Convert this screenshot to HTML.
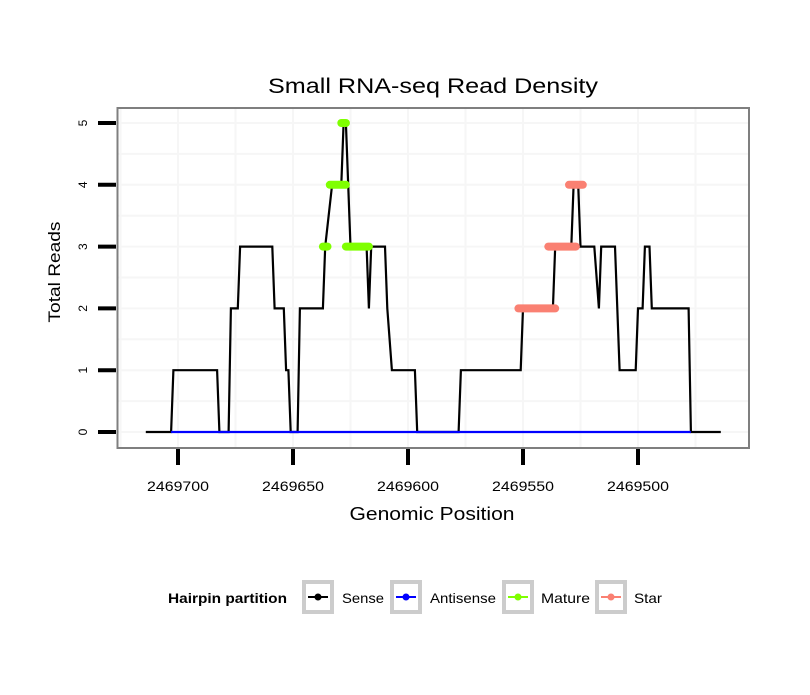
<!DOCTYPE html>
<html><head><meta charset="utf-8"><style>
body{margin:0;background:#fff;}
svg text{font-family:"Liberation Sans",Arial,sans-serif;}
</style></head><body>
<svg id="chart" width="810" height="690" viewBox="0 0 810 690" xmlns="http://www.w3.org/2000/svg">
<rect x="0" y="0" width="810" height="690" fill="#fff"/>
<text x="433" y="93" font-size="21" text-anchor="middle" textLength="330" lengthAdjust="spacingAndGlyphs" fill="#000">Small RNA-seq Read Density</text>
<g id="grid"></g>
<g id="series"></g>
<rect x="117.5" y="108" width="631.5" height="340" fill="none" stroke="#7f7f7f" stroke-width="2"/>
<g id="yaxis"></g>
<g id="xaxis"></g>
<text x="60" y="272" font-size="17" text-anchor="middle" textLength="101" lengthAdjust="spacingAndGlyphs" transform="rotate(-90 60 272)">Total Reads</text>
<text x="432" y="520" font-size="18" text-anchor="middle" textLength="165" lengthAdjust="spacingAndGlyphs">Genomic Position</text>
<g>
<text x="168" y="603" font-size="14" font-weight="bold" textLength="119" lengthAdjust="spacingAndGlyphs">Hairpin partition</text>
<g>
<rect x="304" y="582" width="28" height="30" fill="#fff" stroke="#cccccc" stroke-width="4"/>
<line x1="308" y1="597" x2="328" y2="597" stroke="#000" stroke-width="2"/><circle cx="318" cy="597" r="3.5" fill="#000"/>
<text x="342" y="603" font-size="14" textLength="42" lengthAdjust="spacingAndGlyphs">Sense</text></g>
<g>
<rect x="392" y="582" width="28" height="30" fill="#fff" stroke="#cccccc" stroke-width="4"/>
<line x1="396" y1="597" x2="416" y2="597" stroke="#0000ff" stroke-width="2"/><circle cx="406" cy="597" r="3.5" fill="#0000ff"/>
<text x="430" y="603" font-size="14" textLength="66" lengthAdjust="spacingAndGlyphs">Antisense</text></g>
<g>
<rect x="504" y="582" width="28" height="30" fill="#fff" stroke="#cccccc" stroke-width="4"/>
<line x1="508" y1="597" x2="528" y2="597" stroke="#7fff00" stroke-width="2"/><circle cx="518" cy="597" r="3.5" fill="#7fff00"/>
<text x="541" y="603" font-size="14" textLength="49" lengthAdjust="spacingAndGlyphs">Mature</text></g>
<g>
<rect x="597" y="582" width="28" height="30" fill="#fff" stroke="#cccccc" stroke-width="4"/>
<line x1="601" y1="597" x2="621" y2="597" stroke="#fa8072" stroke-width="2"/><circle cx="611" cy="597" r="3.5" fill="#fa8072"/>
<text x="634" y="603" font-size="14" textLength="28" lengthAdjust="spacingAndGlyphs">Star</text></g>
</g>
</svg>
<script>
const senseX=[2469714,2469703,2469702,2469683,2469682,2469678,2469677,2469674,2469673,2469659,2469658,2469654,2469653,2469652,2469651,2469648,2469647,2469637,2469636,2469633,2469629,2469628,2469627,2469626,2469625,2469618,2469617,2469616,2469610,2469609,2469607,2469597,2469596,2469578,2469577,2469551,2469550,2469537,2469536,2469529,2469528,2469526,2469525,2469519,2469517,2469516,2469510,2469508,2469501,2469500,2469498,2469497,2469495,2469494,2469478,2469477,2469464];
const senseY=[0,0,1,1,0,0,2,2,3,3,2,2,1,1,0,0,2,2,3,4,4,5,5,4,3,3,2,3,3,2,1,1,0,0,1,1,2,2,3,3,4,4,3,3,2,3,3,1,1,2,2,3,3,2,2,0,0];
const antiX=[2469703,2469477];
const antiY=[0,0];
const matureStart=[2469637,2469634,2469629,2469627];
const matureEnd=[2469635,2469627,2469627,2469617];
const matureReads=[3,4,5,3];
const starStart=[2469552,2469539,2469530];
const starEnd=[2469536,2469527,2469524];
const starReads=[2,3,4];
const xTicks=[2469700,2469650,2469600,2469550,2469500];
const yTicks=[0,1,2,3,4,5];

const NS='http://www.w3.org/2000/svg';
const X=p=>178+(2469700-p)*2.3;
const Y=v=>432-v*61.8;
function mk(tag,attrs,parent){const e=document.createElementNS(NS,tag);for(const k in attrs)e.setAttribute(k,attrs[k]);parent.appendChild(e);return e;}
const grid=document.getElementById('grid'),series=document.getElementById('series'),ya=document.getElementById('yaxis'),xa=document.getElementById('xaxis');
for(let v=-0.5;v<=5.5;v+=0.5){const y=Y(v);if(y<109||y>447)continue;
 const l=mk('line',{x1:118,x2:748,y1:y,y2:y,stroke:'#f6f6f6','stroke-width':2},grid);
 
 }
for(let p=2469725;p>=2469450;p-=25){const x=X(p);if(x<119||x>747)continue;
 const l=mk('line',{x1:x,x2:x,y1:109,y2:447,stroke:'#f6f6f6','stroke-width':2},grid);
 
 }
const sp=mk('polyline',{points:senseX.map((p,i)=>X(p)+','+Y(senseY[i])).join(' '),fill:'none',stroke:'#000','stroke-width':2.2},series);


const ap=mk('polyline',{points:antiX.map((p,i)=>X(p)+','+Y(antiY[i])).join(' '),fill:'none',stroke:'#0000ff','stroke-width':2.2},series);


matureReads.forEach((r,i)=>{const l=mk('line',{x1:X(matureStart[i]),x2:X(matureEnd[i]),y1:Y(r),y2:Y(r),stroke:'#7fff00','stroke-width':8,'stroke-linecap':'round'},series);
 
 });
starReads.forEach((r,i)=>{const l=mk('line',{x1:X(starStart[i]),x2:X(starEnd[i]),y1:Y(r),y2:Y(r),stroke:'#fa8072','stroke-width':8,'stroke-linecap':'round'},series);
 
 });
yTicks.forEach(v=>{const y=Y(v);
 const t=mk('line',{x1:98,x2:116,y1:y,y2:y,stroke:'#000','stroke-width':4},ya);
 
 
 const tx=mk('text',{x:87,y:y,'font-size':12,'text-anchor':'middle',transform:`rotate(-90 87 ${y})`},ya);
 tx.textContent=v;
 
 });
xTicks.forEach(p=>{const x=X(p);
 const t=mk('line',{x1:x,x2:x,y1:449,y2:465,stroke:'#000','stroke-width':4},xa);
 
 
 const tx=mk('text',{x:x,y:491,'font-size':14,'text-anchor':'middle',textLength:62,lengthAdjust:'spacingAndGlyphs'},xa);
 tx.textContent=p;
 
 });
</script>
</body></html>
